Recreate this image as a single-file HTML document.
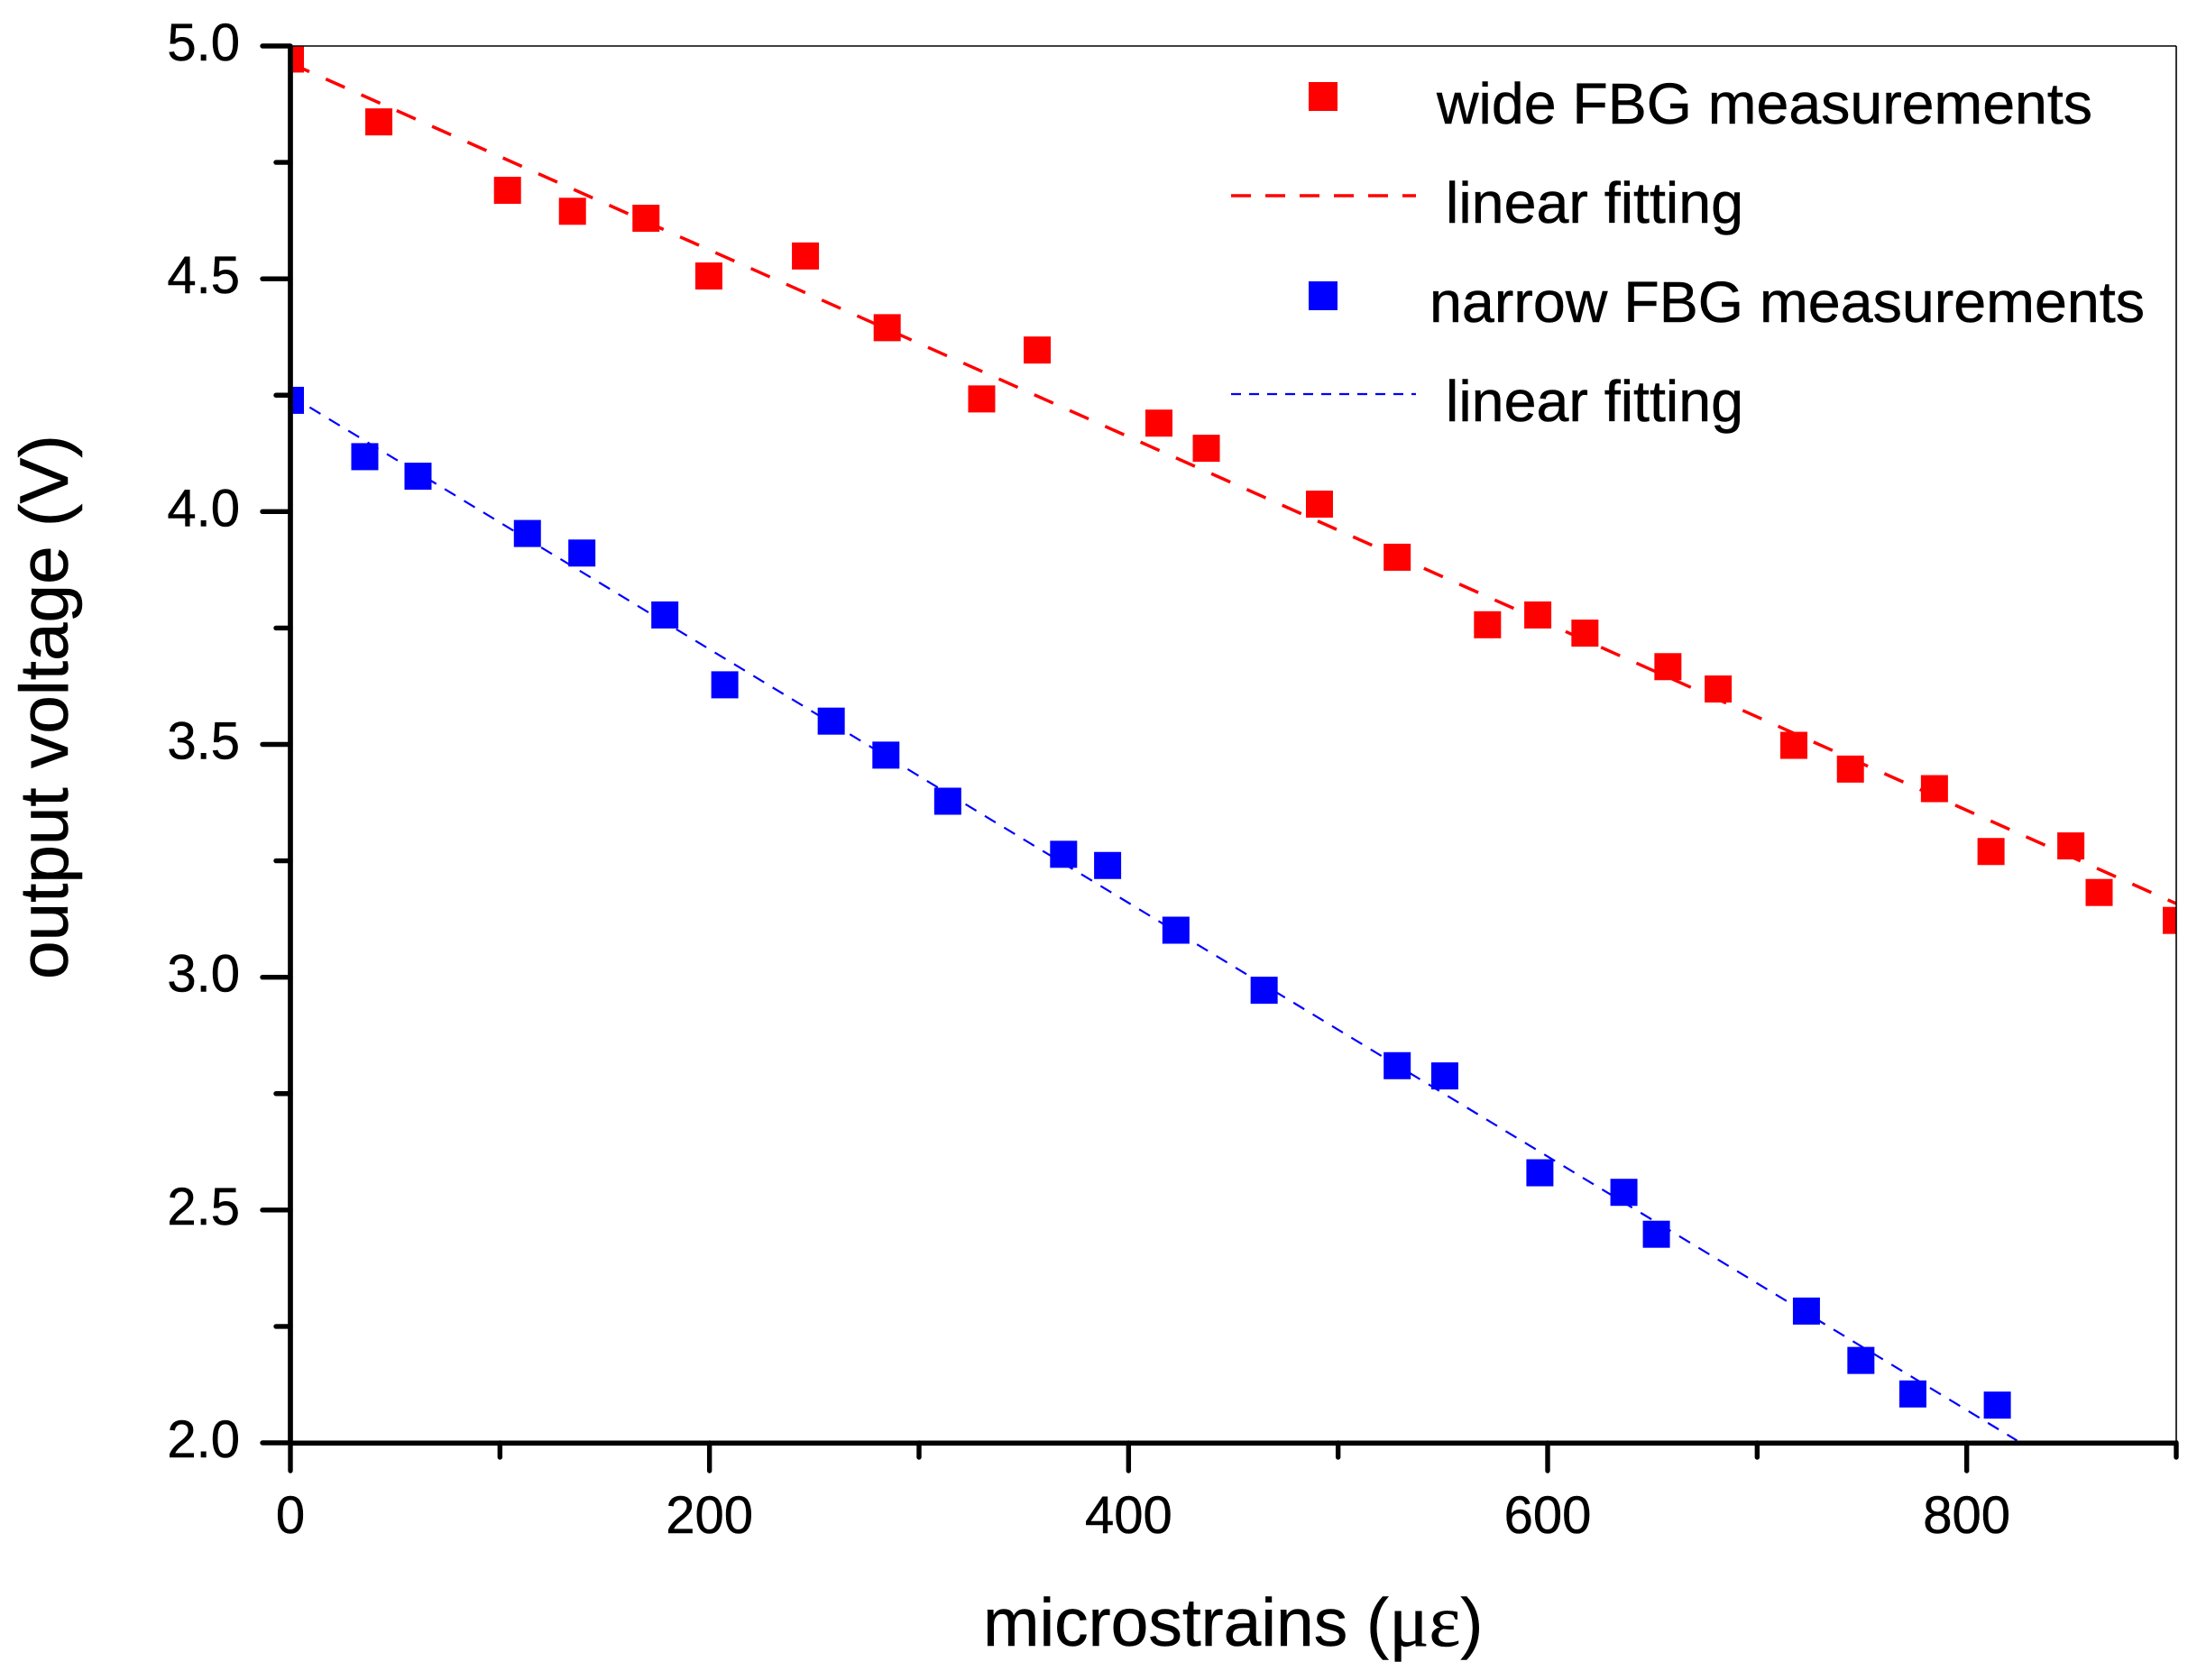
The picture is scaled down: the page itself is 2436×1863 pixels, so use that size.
<!DOCTYPE html>
<html lang="en">
<head>
<meta charset="utf-8">
<title>Output voltage vs microstrains</title>
<style>
html,body{margin:0;padding:0;background:#fff;}
svg{display:block;}
text{font-family:"Liberation Sans",sans-serif;fill:#000;stroke:#000;stroke-width:0.5;}
</style>
</head>
<body>
<svg id="chart" xmlns="http://www.w3.org/2000/svg" width="2436" height="1863" viewBox="0 0 2436 1863">
  <rect x="0" y="0" width="2436" height="1863" fill="#fff"/>
  <defs>
    <clipPath id="plot-clip"><rect x="322" y="51" width="2091" height="1549"/></clipPath>
  </defs>
  <g id="marks" clip-path="url(#plot-clip)"></g>
  <g id="axes"></g>
  <text transform="translate(75,1086) rotate(-90)" font-size="76.5">output voltage (V)</text>
  <text x="1090" y="1825" font-size="75">microstrains (<tspan style="font-family:'Liberation Serif',serif" font-size="83">με</tspan>)</text>
  <g>
    <rect x="1451" y="91" width="32" height="32" fill="#ff0000"/>
    <text x="1593" y="137" font-size="64" textLength="727" lengthAdjust="spacingAndGlyphs">wide FBG measurements</text>
    <line x1="1365" y1="217" x2="1570" y2="217" stroke="#ff0000" stroke-width="3.5" stroke-dasharray="22 16"/>
    <text x="1603" y="247" font-size="64" textLength="330" lengthAdjust="spacingAndGlyphs">linear fitting</text>
    <rect x="1451" y="312" width="32" height="32" fill="#0000ff"/>
    <text x="1585" y="357" font-size="64" textLength="793" lengthAdjust="spacingAndGlyphs">narrow FBG measurements</text>
    <line x1="1365" y1="437" x2="1570" y2="437" stroke="#0000ff" stroke-width="2.2" stroke-dasharray="11 9"/>
    <text x="1603" y="467" font-size="64" textLength="330" lengthAdjust="spacingAndGlyphs">linear fitting</text>
  </g>
</svg>
<script>
const wideStrain = [0,42.2,103.6,134.6,169.7,199.7,245.8,284.8,329.9,356.4,414.5,437.1,491.1,528.2,571.3,595.3,617.8,657.4,681.4,717.5,744.5,784.6,811.6,849.7,863.2,900];
const wideVoltage = [4.972,4.837,4.69,4.645,4.63,4.506,4.549,4.395,4.242,4.347,4.19,4.136,4.016,3.902,3.757,3.778,3.739,3.667,3.619,3.498,3.447,3.405,3.27,3.282,3.182,3.122];
const narrowStrain = [0,35.5,60.9,113.1,139.1,178.7,207.3,258.1,284.2,313.7,369,390,422.6,464.7,528.2,550.9,596.3,636.4,651.9,723.5,749.5,774.3,814.6];
const narrowVoltage = [4.239,4.118,4.076,3.953,3.911,3.778,3.628,3.55,3.477,3.378,3.264,3.24,3.101,2.972,2.81,2.788,2.58,2.538,2.448,2.283,2.177,2.105,2.081];
const wideFitStrain = [0,900];
const wideFitVoltage = [4.963,3.158];
const narrowFitStrain = [0,824];
const narrowFitVoltage = [4.249,2.005];
const xMajorTicks = [0,200,400,600,800];
const xMinorTicks = [100,300,500,700,900];
const yMajorTicks = [2,2.5,3,3.5,4,4.5,5];
const yMinorTicks = [2.25,2.75,3.25,3.75,4.25,4.75];
const yTickDigits = 1;
const xDomain = [0,900];
const yDomain = [2,5];

const NS = 'http://www.w3.org/2000/svg';
const X0 = 322, X1 = 2413, Y0 = 1600, Y1 = 51;
function xScale(v){ return X0 + (v - xDomain[0]) / (xDomain[1] - xDomain[0]) * (X1 - X0); }
function yScale(v){ return Y0 - (v - yDomain[0]) / (yDomain[1] - yDomain[0]) * (Y0 - Y1); }
function make(tag, attrs, parent){
  const el = document.createElementNS(NS, tag);
  for (const k in attrs) el.setAttribute(k, attrs[k]);
  parent.appendChild(el);
  return el;
}
const marks = document.getElementById('marks');
const axes = document.getElementById('axes');

function drawFit(xs, ys, color, width, dash, name){
  const el = make('line', {x1:xScale(xs[0]), y1:yScale(ys[0]), x2:xScale(xs[1]), y2:yScale(ys[1]), stroke:color, 'stroke-width':width, 'stroke-dasharray':dash}, marks);
  
  
}
function drawPoints(xs, ys, color, name){
  const size = 30;
  xs.forEach(function(v, i){
    const el = make('rect', {x:xScale(v) - size/2, y:yScale(ys[i]) - size/2, width:size, height:size, fill:color}, marks);
    
    
  });
}
drawFit(wideFitStrain, wideFitVoltage, '#ff0000', 3.5, '23 20', 'wide-fit-line');
drawFit(narrowFitStrain, narrowFitVoltage, '#0000ff', 2.2, '14 11', 'narrow-fit-line');
drawPoints(wideStrain, wideVoltage, '#ff0000', 'wide-point');
drawPoints(narrowStrain, narrowVoltage, '#0000ff', 'narrow-point');

function axisLine(x1, y1, x2, y2, w, cap, name){
  const el = make('line', {x1:x1, y1:y1, x2:x2, y2:y2, stroke:'#000', 'stroke-width':w, 'stroke-linecap':cap}, axes);
  
  
}
axisLine(X0, Y1, X1, Y1, 1.6, 'butt', 'top-frame-line');
axisLine(X1, Y1, X1, Y0, 1.6, 'butt', 'right-frame-line');
axisLine(X0, Y1, X0, Y0, 5.7, 'butt', 'y-axis-line');
axisLine(X0, Y0 + 0.3, X1 + 2, Y0 + 0.3, 5.6, 'butt', 'x-axis-line');

yMajorTicks.forEach(function(v){
  axisLine(291, yScale(v), X0, yScale(v), 5.4, 'round', 'y-major-tick');
  const t = make('text', {x:266, y:yScale(v) + 16, 'font-size':58, 'text-anchor':'end'}, axes);
  t.textContent = v.toFixed(yTickDigits);
  
  
});
yMinorTicks.forEach(function(v){
  axisLine(306, yScale(v), X0, yScale(v), 5.4, 'round', 'y-minor-tick');
});
xMajorTicks.forEach(function(v){
  axisLine(xScale(v), Y0, xScale(v), 1631, 5.4, 'round', 'x-major-tick');
  const t = make('text', {x:xScale(v), y:1700, 'font-size':58, 'text-anchor':'middle'}, axes);
  t.textContent = String(v);
  
  
});
xMinorTicks.forEach(function(v){
  axisLine(xScale(v), Y0, xScale(v), 1616, 5.4, 'round', 'x-minor-tick');
});
</script>
</body>
</html>
